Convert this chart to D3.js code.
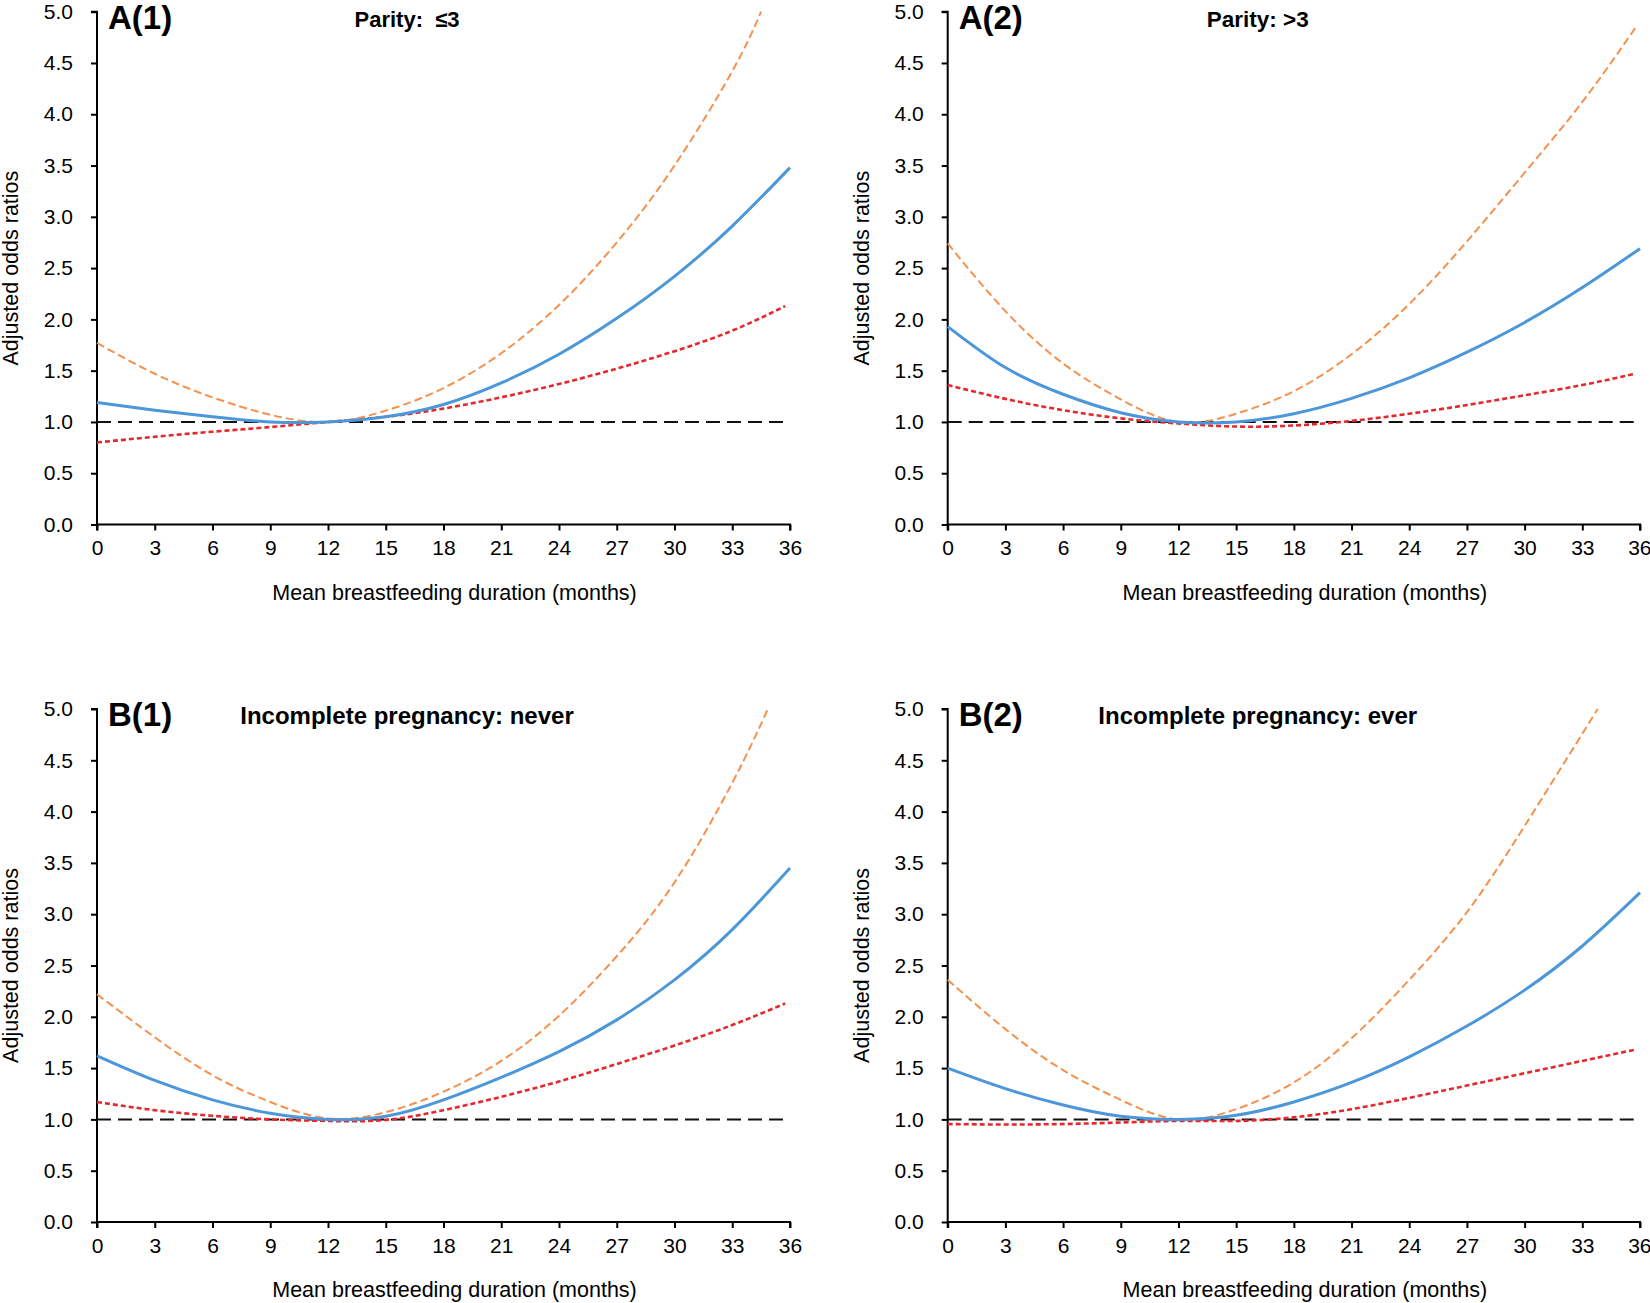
<!DOCTYPE html>
<html><head><meta charset="utf-8">
<script src="https://cdn.jsdelivr.net/npm/d3@7"></script>
<style>
body{margin:0;background:#fff;}
svg{display:block;font-family:"Liberation Sans",Arial,sans-serif;}
</style></head>
<body><svg id="chart" width="1650" height="1303"></svg>
<script>
// ---- data ----
const months = [0,3,6,9,12,15,18,21,24,27,30,33,36];
const xTicks = [0,3,6,9,12,15,18,21,24,27,30,33,36];
const yTicks = [0,0.5,1,1.5,2,2.5,3,3.5,4,4.5,5];
const panelLabels = ["A(1)","A(2)","B(1)","B(2)"];
const panelTitles = ["Parity:  \u22643","Parity: >3","Incomplete pregnancy: never","Incomplete pregnancy: ever"];

// blue solid: point estimate (0..36 step 3)
const a1Blue = [1.19,1.115,1.05,1.00,1.00,1.05,1.17,1.38,1.66,2.01,2.42,2.91,3.48];
const a2Blue = [1.93,1.53,1.27,1.09,1.00,1.00,1.08,1.23,1.43,1.68,1.97,2.31,2.69];
const b1Blue = [1.62,1.38,1.19,1.06,1.00,1.03,1.19,1.41,1.66,1.97,2.36,2.85,3.45];
const b2Blue = [1.50,1.30,1.14,1.03,1.00,1.04,1.17,1.36,1.61,1.91,2.26,2.69,3.21];

// orange dashed: upper bound (step 3 from 0) + end point [month, value]
const a1Orange = [1.77,1.47,1.24,1.07,1.00,1.11,1.33,1.67,2.14,2.75,3.50,4.42];
const a2Orange = [2.74,2.08,1.57,1.22,1.00,1.08,1.30,1.66,2.15,2.76,3.43,4.12];
const b1Orange = [2.22,1.80,1.43,1.17,1.01,1.07,1.27,1.57,2.01,2.59,3.31,4.28];
const b2Orange = [2.36,1.88,1.48,1.19,1.00,1.10,1.36,1.79,2.36,3.02,3.86];
const a1OrangeEnd = [34.5,5.0];
const a2OrangeEnd = [35.75,4.84];
const b1OrangeEnd = [34.85,5.0];
const b2OrangeEnd = [33.8,5.0];

// red dotted: lower bound (0..33 step 3) + end point [month, value]
const a1Red = [0.80,0.855,0.905,0.95,1.00,1.05,1.13,1.24,1.37,1.52,1.69,1.89];
const a2Red = [1.36,1.225,1.115,1.035,0.985,0.955,0.965,1.01,1.08,1.165,1.26,1.36];
const b1Red = [1.17,1.09,1.035,1.00,0.985,0.995,1.09,1.22,1.37,1.54,1.72,1.92];
const b2Red = [0.955,0.95,0.955,0.97,0.985,0.985,1.02,1.10,1.21,1.33,1.45,1.57];
const a1RedEnd = [35.75,2.13];
const a2RedEnd = [35.75,1.47];
const b1RedEnd = [35.75,2.13];
const b2RedEnd = [35.75,1.68];

// reference line OR = 1
const refValue = 1.0;
const refEnd = 35.7;

// ---- layout ----
const layout = [
  {x0:97,  x1:790,  yTop:11.7, yBot:524.5},
  {x0:947.7,x1:1640,yTop:11.7, yBot:524.5},
  {x0:97,  x1:790,  yTop:709,  yBot:1222},
  {x0:947.7,x1:1640,yTop:709,  yBot:1222}
];
const series = [
  {blue:a1Blue, orange:a1Orange, oEnd:a1OrangeEnd, red:a1Red, rEnd:a1RedEnd, titleSize:22},
  {blue:a2Blue, orange:a2Orange, oEnd:a2OrangeEnd, red:a2Red, rEnd:a2RedEnd, titleSize:22.5},
  {blue:b1Blue, orange:b1Orange, oEnd:b1OrangeEnd, red:b1Red, rEnd:b1RedEnd, titleSize:24},
  {blue:b2Blue, orange:b2Orange, oEnd:b2OrangeEnd, red:b2Red, rEnd:b2RedEnd, titleSize:24}
];

const svg = d3.select("#chart");
const toPts = (vals, end) => {
  const p = vals.map((v,i)=>[months[i], v]);
  if (end) p.push(end);
  return p;
};

layout.forEach((L, i) => {
  const S = series[i];
  const x = d3.scaleLinear().domain([0,36]).range([L.x0, L.x1]);
  const y = d3.scaleLinear().domain([0,5]).range([L.yBot, L.yTop]);
  const g = svg.append("g");

  // axes
  const yAxis = d3.axisLeft(y).tickValues(yTicks).tickFormat(d3.format(".1f")).tickSize(6).tickPadding(18);
  const xAxis = d3.axisBottom(x).tickValues(xTicks).tickFormat(d3.format("d")).tickSize(6).tickPadding(10);
  const gy = g.append("g").attr("transform",`translate(${L.x0},0)`).call(yAxis);
  const gx = g.append("g").attr("transform",`translate(0,${L.yBot})`).call(xAxis);
  [gx, gy].forEach(a => {
    a.selectAll("path,line").attr("stroke","#000").attr("stroke-width",2);
    a.selectAll("text").attr("font-size",21).attr("fill","#000")
      .attr("font-family","'Liberation Sans',Arial,sans-serif");
  });
  gy.select(".domain").attr("d", `M-6,${y(5)}H0V${y(0)}`);
  gx.select(".domain").attr("d", `M${x(0)},6V0H${x(36)}V6`);
  // keep the last x tick label inside the page
  gx.selectAll(".tick text").filter(d => d === 36 && L.x1 > 1600).attr("text-anchor","end").attr("dx", 11);

  const line = d3.line().x(d=>x(d[0])).y(d=>y(d[1])).curve(d3.curveNatural);

  // reference line
  g.append("path").datum([[0,refValue],[refEnd,refValue]])
    .attr("d", d3.line().x(d=>x(d[0])).y(d=>y(d[1])))
    .attr("fill","none").attr("stroke","#111").attr("stroke-width",2)
    .attr("stroke-dasharray","14,7");

  // red lower bound
  g.append("path").datum(toPts(S.red, S.rEnd)).attr("d", line)
    .attr("fill","none").attr("stroke","#E3292E").attr("stroke-width",2.6)
    .attr("stroke-dasharray","5,3");
  // orange upper bound
  g.append("path").datum(toPts(S.orange, S.oEnd)).attr("d", line)
    .attr("fill","none").attr("stroke","#F4914F").attr("stroke-width",2)
    .attr("stroke-dasharray","8,4");
  // blue estimate
  g.append("path").datum(toPts(S.blue)).attr("d", line)
    .attr("fill","none").attr("stroke","#4C97DA").attr("stroke-width",3);

  // labels
  g.append("text").attr("x", L.x0 + 11).attr("y", L.yTop + 17)
    .attr("font-size",33).attr("font-weight","bold").text(panelLabels[i]);
  g.append("text").attr("x", L.x0 + 310).attr("y", L.yTop + 15)
    .attr("text-anchor","middle").attr("font-size",S.titleSize).attr("font-weight","bold")
    .attr("xml:space","preserve").style("white-space","pre").text(panelTitles[i]);

  g.append("text").attr("x", (L.x0+L.x1)/2 + 11).attr("y", L.yBot + 75)
    .attr("text-anchor","middle").attr("font-size",21.5).text("Mean breastfeeding duration (months)");
  g.append("text").attr("transform",`translate(${L.x0-86.5},${(L.yTop+L.yBot)/2}) rotate(-90)`)
    .attr("text-anchor","middle").attr("dy","0.35em").attr("font-size",21.5).text("Adjusted odds ratios");
});
</script></body></html>
